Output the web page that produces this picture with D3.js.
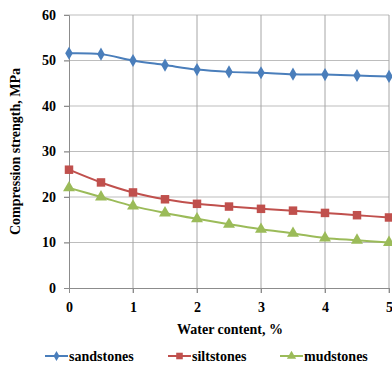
<!DOCTYPE html>
<html>
<head>
<meta charset="utf-8">
<script src="https://cdn.jsdelivr.net/npm/d3@7"></script>
<style>
  body { margin: 0; background: #fff; }
</style>
</head>
<body>
<svg id="chart" width="392" height="368"></svg>
<script>
// data
let waterContent = [0, 0.5, 1, 1.5, 2, 2.5, 3, 3.5, 4, 4.5, 5];
let sandstones = [51.6, 51.4, 50.0, 49.0, 48.0, 47.5, 47.3, 47.0, 46.9, 46.7, 46.5];
let siltstones = [26.0, 23.2, 21.0, 19.5, 18.5, 17.9, 17.4, 17.0, 16.5, 16.0, 15.5];
let mudstones  = [22.0, 20.0, 18.0, 16.5, 15.2, 14.0, 12.9, 12.0, 11.0, 10.5, 10.0];
let xTicks = [0, 1, 2, 3, 4, 5];
let yTicks = [0, 10, 20, 30, 40, 50, 60];

let FONT = "'Times New Roman', 'Liberation Serif', 'DejaVu Serif', serif";

let svg = d3.select("#chart");
let position = { left: 69, top: 15, right: 389, bottom: 288 };

let x = d3.scaleLinear().domain([0, 5]).range([position.left, position.right]);
let y = d3.scaleLinear().domain([0, 60]).range([position.bottom, position.top]);

// grid
let grid = svg.append("g");
grid.selectAll(".hg").data(yTicks.slice(1)).enter().append("line")
    .attr("x1", position.left - 5).attr("x2", position.right)
    .attr("y1", d => y(d)).attr("y2", d => y(d))
    .style("stroke", "#bdbdbd").style("stroke-width", 1);
grid.selectAll(".vg").data(xTicks.slice(1)).enter().append("line")
    .attr("x1", d => x(d)).attr("x2", d => x(d))
    .attr("y1", position.top).attr("y2", position.bottom + 5)
    .style("stroke", "#a6a6a6").style("stroke-width", 1);

// axes
let yAxis = svg.append("g")
    .attr("transform", "translate(" + position.left + ",0)")
    .call(d3.axisLeft(y).tickValues(yTicks).tickFormat(d3.format("d")).tickSize(5).tickPadding(8));
let xAxis = svg.append("g")
    .attr("transform", "translate(0," + position.bottom + ")")
    .call(d3.axisBottom(x).tickValues(xTicks).tickFormat(d3.format("d")).tickSize(5).tickPadding(9));
[xAxis, yAxis].forEach(a => {
    a.attr("font-family", FONT).attr("font-size", 14).attr("font-weight", "bold");
    a.select(".domain").style("stroke", "#8c8c8c");
    a.selectAll(".tick line").style("stroke", "#8c8c8c");
    a.selectAll("text").attr("fill", "#000")
        .style("font-family", FONT).style("font-weight", "bold").style("font-size", "14px");
});

// axis titles
svg.append("text")
    .attr("transform", "translate(20," + ((position.top + position.bottom) / 2) + ") rotate(-90)")
    .attr("text-anchor", "middle")
    .style("font-family", FONT).style("font-weight", "bold").style("font-size", "14px")
    .text("Compression strength, MPa");
svg.append("text")
    .attr("x", (position.left + position.right) / 2 + 1)
    .attr("y", 334)
    .attr("text-anchor", "middle")
    .style("font-family", FONT).style("font-weight", "bold").style("font-size", "14px")
    .text("Water content, %");

// series
let series = [
    { name: "sandstones", values: sandstones, color: "#4a7ebb", symbol: d3.symbolDiamond, size: 50, legendX: 45 },
    { name: "siltstones", values: siltstones, color: "#c0504d", symbol: d3.symbolSquare, size: 72, legendX: 168 },
    { name: "mudstones", values: mudstones, color: "#9bbb59", symbol: d3.symbolTriangle, size: 62, legendX: 280 }
];

let line = d3.line()
    .x(d => x(d[0]))
    .y(d => y(d[1]))
    .curve(d3.curveCatmullRom.alpha(0.5));

series.forEach(s => {
    let pts = waterContent.map((w, i) => [w, s.values[i]]);
    svg.append("path")
        .datum(pts)
        .attr("d", line)
        .style("fill", "none")
        .style("stroke", s.color)
        .style("stroke-width", 2);
    svg.append("g").selectAll("path").data(pts).enter().append("path")
        .attr("transform", d => "translate(" + x(d[0]) + "," + y(d[1]) + ")")
        .attr("d", d3.symbol().type(s.symbol).size(s.size))
        .style("fill", s.color);

    // legend
    let lg = svg.append("g").attr("transform", "translate(" + s.legendX + ",356)");
    lg.append("line").attr("x1", 0).attr("x2", 23).attr("y1", 0).attr("y2", 0)
        .style("stroke", s.color).style("stroke-width", 2);
    lg.append("path").attr("transform", "translate(11.5,0)")
        .attr("d", d3.symbol().type(s.symbol).size(s.size * 0.6))
        .style("fill", s.color);
    lg.append("text").attr("x", 24).attr("y", 4.5)
        .style("font-family", FONT).style("font-weight", "bold").style("font-size", "14px")
        .text(s.name);
});
</script>
</body>
</html>
